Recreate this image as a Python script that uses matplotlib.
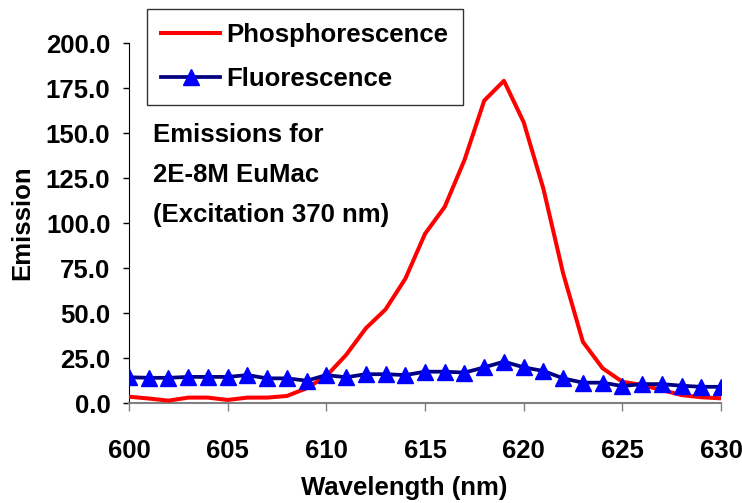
import matplotlib.pyplot as plt
import numpy as np

plt.rcParams['font.family'] = ['Liberation Sans', 'DejaVu Sans']
plt.rcParams['font.weight'] = 'bold'

wavelength = list(range(600, 631))
phosphorescence = [3.5, 2.5, 1.3, 3.0, 3.0, 1.7, 3.0, 3.0, 3.9, 8.2,
                   15.0, 26.7, 41.5, 52.0, 69.0, 94.0, 109.0, 135.0, 168.0, 179.0,
                   156.0, 119.0, 72.0, 34.0, 19.3, 11.8, 10.0, 7.2, 4.4, 3.2, 2.6]
fluorescence = [14.3, 14.0, 14.0, 14.5, 14.5, 14.5, 15.5, 13.7, 13.7, 12.4,
                15.5, 14.3, 16.0, 16.0, 15.5, 17.4, 17.4, 16.9, 19.8, 23.0,
                19.8, 17.8, 13.7, 11.3, 11.3, 9.4, 10.5, 10.5, 9.6, 9.0, 9.0]
annotation = "Emissions for\n2E-8M EuMac\n(Excitation 370 nm)"

fs = 18.5

fig = plt.figure(figsize=(7.42, 5.03), dpi=100)
ax = fig.add_axes([0.1739, 0.1988, 0.7978, 0.7157])

ax.plot(wavelength, phosphorescence, color='#ff0000', linewidth=2.9,
        label='Phosphorescence', zorder=3)
ax.plot(wavelength, fluorescence, color='#000080', linewidth=2.7,
        marker='^', markersize=12, markerfacecolor='#0000ff',
        markeredgecolor='#0000ff', label='Fluorescence', zorder=4)

ax.set_xlim(600, 630)
ax.set_ylim(0, 200)
ax.set_xticks(np.arange(600, 631, 5))
ax.set_yticks(np.arange(0, 201, 25))
ax.set_yticklabels(['%.1f' % v for v in np.arange(0, 201, 25)])
ax.tick_params(axis='both', labelsize=fs, direction='out', width=1)
ax.tick_params(axis='y', length=4.5, pad=9)
ax.tick_params(axis='x', length=6, pad=20, color='#808080', labelcolor='black')
ax.spines['top'].set_visible(False)
ax.spines['right'].set_visible(False)
ax.spines['bottom'].set_color('#808080')
ax.spines['bottom'].set_linewidth(1.5)
ax.spines['left'].set_color('black')
for sp in ax.spines.values():
    sp.set_clip_on(False)

ax.set_xlabel('Wavelength (nm)', fontsize=fs, fontweight='bold', labelpad=9)
ax.xaxis.label.set_x(0.4645)
ax.set_ylabel('Emission', fontsize=fs, fontweight='bold', labelpad=8)

fig.text(0.206, 0.756, annotation, fontsize=fs, fontweight='bold',
         va='top', ha='left', linespacing=1.85)

leg = ax.legend(loc='upper left', bbox_to_anchor=(0.198, 0.982),
                bbox_transform=fig.transFigure, fontsize=fs, frameon=True,
                fancybox=False, edgecolor='black', handlelength=2.3,
                borderpad=0.55, labelspacing=0.78, handletextpad=0.25,
                borderaxespad=0)
leg.get_frame().set_linewidth(1.0)

fig.savefig('out.png', dpi=100)
